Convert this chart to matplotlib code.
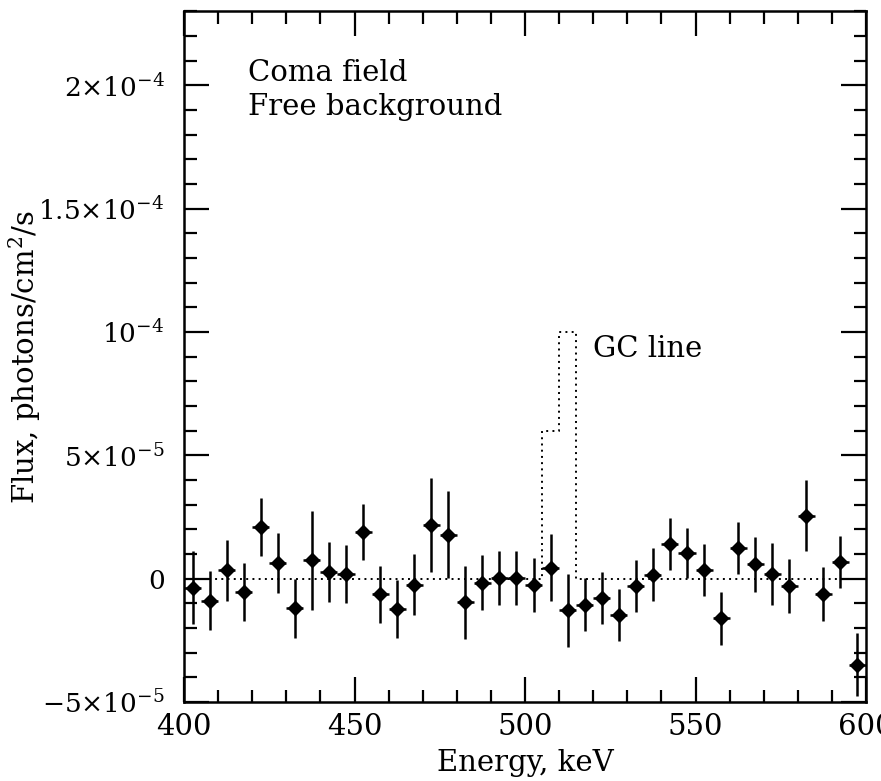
import matplotlib
matplotlib.use("Agg")
import matplotlib.pyplot as plt
from matplotlib.ticker import FixedLocator, FixedFormatter, MultipleLocator

plt.rcParams['font.family'] = ['DejaVu Serif']
plt.rcParams['mathtext.fontset'] = 'dejavuserif'

# Data (flux in units of 1e-5 photons/cm^2/s)
energy = [402.5 + 5 * i for i in range(40)]
flux_e5 = [-0.36, -0.90, 0.34, -0.54, 2.09, 0.65, -1.20, 0.74, 0.27, 0.18,
           1.89, -0.63, -1.23, -0.24, 2.17, 1.78, -0.96, -0.17, 0.03, 0.03,
           -0.27, 0.45, -1.28, -1.05, -0.78, -1.46, -0.30, 0.16, 1.39, 1.04,
           0.36, -1.60, 1.24, 0.58, 0.18, -0.31, 2.56, -0.63, 0.67, -3.48]
err_e5 = [1.47, 1.20, 1.23, 1.19, 1.19, 1.22, 1.20, 2.00, 1.21, 1.17,
          1.15, 1.15, 1.19, 1.25, 1.92, 1.77, 1.48, 1.11, 1.09, 1.10,
          1.10, 1.36, 1.48, 1.09, 1.07, 1.06, 1.06, 1.07, 1.05, 1.03,
          1.05, 1.07, 1.07, 1.11, 1.25, 1.10, 1.42, 1.10, 1.06, 1.28]
bin_half = 2.5

# GC line model (step histogram)
model_edges = [400, 505, 510, 515, 592]
model_vals_e5 = [0, 6.0, 10.0, 0, 0]

ytick_vals = [-5e-5, 0, 5e-5, 1e-4, 1.5e-4, 2e-4]
ytick_labels = [r'$-5{\times}10^{-5}$', '0', r'$5{\times}10^{-5}$', r'$10^{-4}$',
                r'$1.5{\times}10^{-4}$', r'$2{\times}10^{-4}$']
xtick_vals = [400, 450, 500, 550, 600]
xtick_labels = ['400', '450', '500', '550', '600']

flux = [v * 1e-5 for v in flux_e5]
err = [v * 1e-5 for v in err_e5]
model_vals = [v * 1e-5 for v in model_vals_e5]

FS = 21

fig = plt.figure(figsize=(8.81, 7.81), dpi=100)
ax = fig.add_axes([184 / 881, 1 - 702 / 781, (866 - 184) / 881, (702 - 11.3) / 781])

ax.plot(model_edges, model_vals, drawstyle='steps-post', linestyle=(0, (1, 2.2)),
        color='black', linewidth=1.4, zorder=1)

ax.errorbar(energy, flux, yerr=err, xerr=bin_half, fmt='D', color='black',
            markersize=7, elinewidth=1.8, capsize=0, zorder=3)

ax.set_xlim(400, 600)
ax.set_ylim(-5e-5, 2.3e-4)

ax.xaxis.set_major_locator(FixedLocator(xtick_vals))
ax.xaxis.set_major_formatter(FixedFormatter(xtick_labels))
ax.xaxis.set_minor_locator(MultipleLocator(10))
ax.yaxis.set_major_locator(FixedLocator(ytick_vals))
ax.yaxis.set_major_formatter(FixedFormatter(ytick_labels))
ax.yaxis.set_minor_locator(MultipleLocator(1e-5))

ax.tick_params(which='both', direction='in', top=True, right=True, width=1.6,
               colors='black')
ax.tick_params(which='major', length=18)
ax.tick_params(axis='x', which='major', pad=8, labelsize=FS)
ax.tick_params(axis='y', which='major', pad=14, labelsize=19)
ax.tick_params(which='minor', length=9)
for s in ax.spines.values():
    s.set_linewidth(1.8)

ax.set_xlabel('Energy, keV', fontsize=FS)
ax.xaxis.set_label_coords(0.5, -0.068)
ax.set_ylabel('Flux, photons/cm$^2$/s', fontsize=FS)
ax.yaxis.set_label_coords(-0.207, 0.5)

ax.text(0.094, 0.899, 'Coma field', transform=ax.transAxes,
        fontsize=FS, va='baseline', ha='left')
ax.text(0.094, 0.850, 'Free background', transform=ax.transAxes,
        fontsize=FS, va='baseline', ha='left')
ax.text(0.600, 0.4995, 'GC line', transform=ax.transAxes, fontsize=FS,
        va='baseline', ha='left')

fig.savefig('out.png', dpi=100)
